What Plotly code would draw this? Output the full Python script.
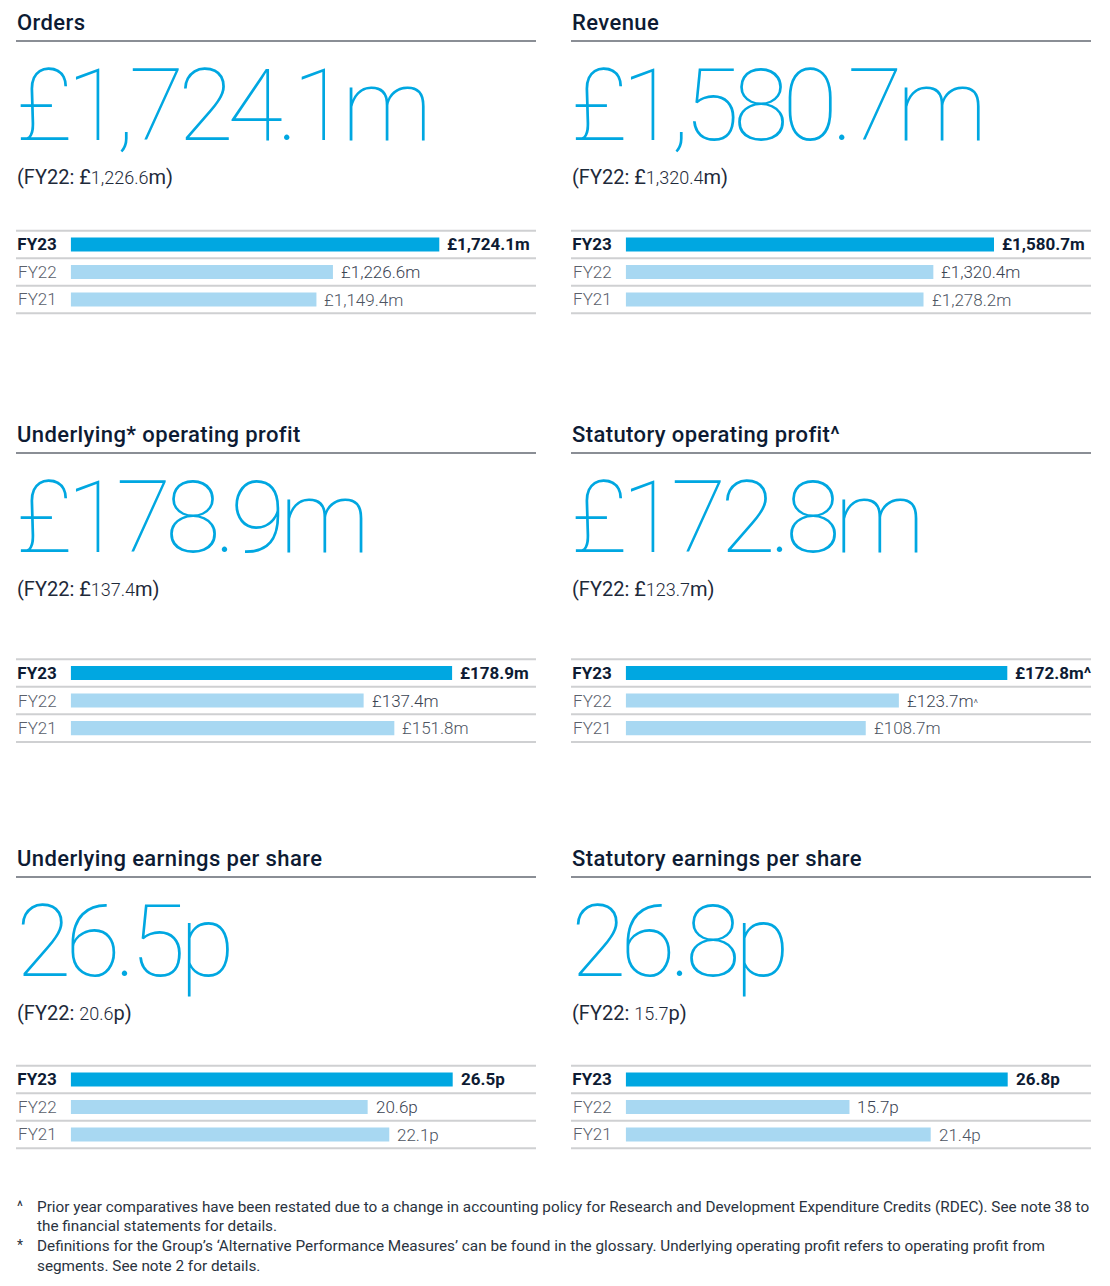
import plotly.graph_objects as go

# ---------------- data ----------------
titles = ["Orders", "Revenue", "Underlying* operating profit",
          "Statutory operating profit^", "Underlying earnings per share",
          "Statutory earnings per share"]
years = ["FY23", "FY22", "FY21"]
orders = [1724.1, 1226.6, 1149.4]
revenue = [1580.7, 1320.4, 1278.2]
underlying_op = [178.9, 137.4, 151.8]
statutory_op = [172.8, 123.7, 108.7]
underlying_eps = [26.5, 20.6, 22.1]
statutory_eps = [26.8, 15.7, 21.4]
units = ["m", "m", "m", "m", "p", "p"]
label_marks = [["", "", ""], ["", "", ""], ["", "", ""], ["^", "^", ""],
               ["", "", ""], ["", "", ""]]
footnotes = [
    ("^", ["Prior year comparatives have been restated due to a change in accounting policy for Research and Development Expenditure Credits (RDEC). See note 38 to",
           "the financial statements for details."]),
    ("*", ["Definitions for the Group\u2019s \u2018Alternative Performance Measures\u2019 can be found in the glossary. Underlying operating profit refers to operating profit from",
           "segments. See note 2 for details."]),
]
series = [orders, revenue, underlying_op, statutory_op, underlying_eps, statutory_eps]

# ---------------- styling / layout constants ----------------
W, H = 1110, 1286
FONT = "Roboto"
DARK = "#0d1b33"
GREY_TXT = "#4d5562"
BLUE = "#00a7e1"
LIGHT = "#a8d8f2"
panel_left = [16, 571]
panel_w = 520
head_off = [0, 412, 836]          # vertical offset of header block per row
bar_top = [230.7, 659.3, 1065.7]  # top line of bar block per row
bar_block = 82.6
bar_start = 54.7                  # bar start offset from panel left
fy23_len = [368.6, 368.3, 381.4, 381.6, 382.0, 382.0]


def px(x):
    return x / W


def py(y):
    return 1 - y / H


def fmt(v, unit):
    if unit == "m":
        return f"\u00a3{v:,.1f}m"
    return f"{v:.1f}p"


fig = go.Figure()
annotations = []
shapes = []
layout_axes = {}

for i, (title, vals, unit) in enumerate(zip(titles, series, units)):
    col = i % 2
    row = i // 2
    L = panel_left[col]
    R = L + panel_w
    ho = head_off[row]
    top = bar_top[row]
    bot = top + bar_block
    ax = "" if i == 0 else str(i + 1)

    # title
    annotations.append(dict(
        x=px(L - 1), y=py(22.7 + ho), xref="paper", yref="paper",
        xanchor="left", yanchor="middle", showarrow=False,
        text="<span style='letter-spacing:0.4px'>" + title + "</span>",
        font=dict(family=FONT, size=22, color=DARK, weight=500)))
    shapes.append(dict(type="line", xref="paper", yref="paper",
                       x0=px(L), x1=px(R), y0=py(41 + ho), y1=py(41 + ho),
                       line=dict(color="#8a8e95", width=2)))

    # big number
    annotations.append(dict(
        x=px(L - 2), y=py(105 + ho), xref="paper", yref="paper",
        xanchor="left", yanchor="middle", showarrow=False,
        text="<span style='letter-spacing:-6px'>" + fmt(vals[0], unit) + "</span>",
        font=dict(family=FONT, size=101, color=BLUE, weight=100)))

    # prior year comparison
    v22 = fmt(vals[1], unit)
    if unit == "m":
        body = ("\u00a3<span style='font-size:18px;font-weight:300'>"
                + v22[1:-1] + "</span>m")
    else:
        body = ("<span style='font-size:18px;font-weight:300'>"
                + v22[:-1] + "</span>p")
    annotations.append(dict(
        x=px(L - 1), y=py(176.5 + ho), xref="paper", yref="paper",
        xanchor="left", yanchor="middle", showarrow=False,
        text="(FY22: " + body + ")",
        font=dict(family=FONT, size=20, color="#1e2a3a")))

    # row lines
    for k in range(4):
        yy = top + k * bar_block / 3
        shapes.append(dict(type="line", xref="paper", yref="paper",
                           x0=px(L), x1=px(R), y0=py(yy), y1=py(yy),
                           line=dict(color="#cfd0d2", width=2)))

    # bar axes
    dom_px = panel_w - bar_start
    xmax = vals[0] * dom_px / fy23_len[i]
    layout_axes["xaxis" + ax] = dict(
        domain=[px(L + bar_start), px(R)], range=[0, xmax],
        anchor="y" + ax, visible=False, fixedrange=True)
    layout_axes["yaxis" + ax] = dict(
        domain=[py(bot), py(top)], anchor="x" + ax, type="category",
        categoryorder="array", categoryarray=years, range=[2.5, -0.5],
        tickvals=years,
        ticktext=["<span style='font-weight:700;color:%s'>%s</span>" % (DARK, years[0]),
                  "<span style='font-weight:300'>%s</span>" % years[1],
                  "<span style='font-weight:300'>%s</span>" % years[2]],
        tickfont=dict(family=FONT, size=17, color="#5a606b"),
        ticks="", ticklabelstandoff=13, showline=False, showgrid=False,
        zeroline=False, fixedrange=True)

    fig.add_trace(go.Bar(
        x=vals, y=years, orientation="h", xaxis="x" + ax, yaxis="y" + ax,
        width=0.51, marker=dict(color=[BLUE, LIGHT, LIGHT], line=dict(width=0)),
        hoverinfo="skip", showlegend=False))

    # value labels
    for k, (yr, v) in enumerate(zip(years, vals)):
        mark = label_marks[i][k]
        txt = fmt(v, unit)
        if k == 0:
            text = "<b>" + txt + mark + "</b>"
            f = dict(family=FONT, size=17, color=DARK, weight=700)
        else:
            if mark:
                txt = txt + "<span style='font-size:11px'>" + mark + "</span>"
            text = txt
            f = dict(family=FONT, size=17, color=("#3a4352" if k == 1 else GREY_TXT),
                     weight=300)
        annotations.append(dict(
            x=v, y=yr, xref="x" + ax, yref="y" + ax, xanchor="left",
            yanchor="middle", xshift=6, showarrow=False, text=text, font=f))

# footnotes
fy = [1206.5, 1226, 1246, 1265.5]
line_i = 0
for sym, lines in footnotes:
    annotations.append(dict(
        x=px(15), y=py(fy[line_i] - 1), xref="paper", yref="paper",
        xanchor="left", yanchor="middle", showarrow=False, text=sym,
        font=dict(family=FONT, size=14, color="#2a3340")))
    for ln in lines:
        annotations.append(dict(
            x=px(35), y=py(fy[line_i]), xref="paper", yref="paper",
            xanchor="left", yanchor="middle", showarrow=False, text=ln,
            font=dict(family=FONT, size=15.3, color="#2a3340")))
        line_i += 1

fig.update_layout(
    width=W, height=H, margin=dict(l=0, r=0, t=0, b=0),
    paper_bgcolor="white", plot_bgcolor="rgba(0,0,0,0)",
    annotations=annotations, shapes=shapes, bargap=0.49,
    font=dict(family=FONT), **layout_axes)

fig.write_html("out.html", config={"displayModeBar": False},
               post_script="document.body.style.margin='0px';")
